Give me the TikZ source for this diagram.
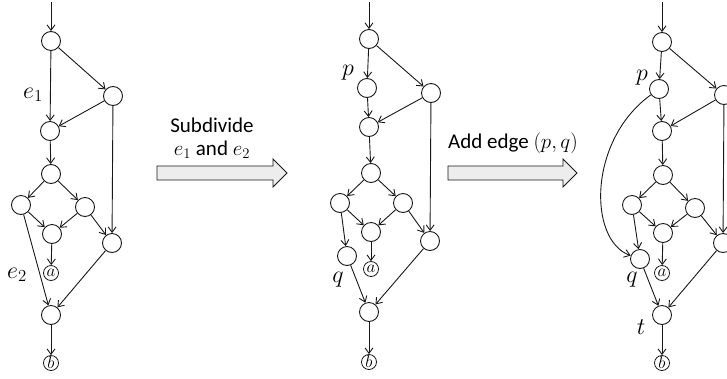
\documentclass[tikz,border=0pt]{standalone}
\usepackage{fix-cm}
\usepackage{fontspec}
\setmainfont{Carlito}
\usetikzlibrary{arrows.meta}
\begin{document}
\begin{tikzpicture}[x=1pt,y=-1pt,
  vtx/.style={circle,draw=black!90,line width=0.9pt,minimum size=19pt,inner sep=0pt},
  leaf/.style={circle,draw=black!90,line width=0.8pt,minimum size=15pt,inner sep=0pt,font=\fontsize{17}{17}\selectfont},
  edge/.style={draw=black!90,line width=0.9pt,-{Straight Barb[length=5.5pt,width=8pt]}},
  lbl/.style={font=\fontsize{21}{25}\selectfont,inner sep=0pt},
  mlbl/.style={font=\fontsize{24}{28}\selectfont,inner sep=0pt},
  blockarrow/.style={draw=black!90,line width=0.9pt,fill=black!7}]
\clip (0,0) rectangle (727,378);

% ---------- graph 1 ----------
\coordinate (S1) at (51,2);
\node[vtx] (A1) at (51,41) {};
\node[vtx] (B1) at (113,96) {};
\node[vtx] (C1) at (50,131) {};
\node[vtx] (D1) at (51,174) {};
\node[vtx] (E1) at (21,205) {};
\node[vtx] (F1) at (85,207) {};
\node[vtx] (G1) at (52,234) {};
\node[vtx] (H1) at (112,243) {};
\node[leaf] (a1) at (51,273) {$a$};
\node[vtx] (I1) at (51,315) {};
\node[leaf] (b1) at (51,363) {$b$};
\node[mlbl] (le1) at (33,95) {$e_1$};
\node[mlbl] (le2) at (17,275) {$e_2$};
\draw[edge] (S1) -- (A1);
\draw[edge] (A1) -- (C1);
\draw[edge] (A1) -- (B1);
\draw[edge] (B1) -- (C1);
\draw[edge] (B1) -- (H1);
\draw[edge] (C1) -- (D1);
\draw[edge] (D1) -- (E1);
\draw[edge] (D1) -- (F1);
\draw[edge] (E1) -- (G1);
\draw[edge] (F1) -- (G1);
\draw[edge] (F1) -- (H1);
\draw[edge] (G1) -- (a1);
\draw[edge] (E1) -- (I1);
\draw[edge] (H1) -- (I1);
\draw[edge] (I1) -- (b1);

% ---------- arrow 1 ----------
\draw[blockarrow] (157,166) -- (273,166) -- (273,159) -- (287,173) -- (273,187) -- (273,180) -- (157,180) -- cycle;
\node[lbl] (t1) at (212,125) {Subdivide};
\node[lbl] (t2) at (212,150) {$e_1$ and $e_2$};

% ---------- graph 2 ----------
\coordinate (S2) at (369,2);
\node[vtx] (A2) at (369,39) {};
\node[vtx] (P2) at (367,88) {};
\node[vtx] (B2) at (431,93) {};
\node[vtx] (C2) at (369,127) {};
\node[vtx] (D2) at (371,173) {};
\node[vtx] (E2) at (340,203) {};
\node[vtx] (F2) at (403,203) {};
\node[vtx] (G2) at (371,232) {};
\node[vtx] (H2) at (430,241) {};
\node[vtx] (Q2) at (347,256) {};
\node[leaf] (a2) at (371,269) {$a$};
\node[vtx] (I2) at (369,312) {};
\node[leaf] (b2) at (369,362) {$b$};
\node[mlbl] (lp2) at (348,73) {$p$};
\node[mlbl] (lq2) at (338,280) {$q$};
\draw[edge] (S2) -- (A2);
\draw[edge] (A2) -- (P2);
\draw[edge] (A2) -- (B2);
\draw[edge] (P2) -- (C2);
\draw[edge] (B2) -- (C2);
\draw[edge] (B2) -- (H2);
\draw[edge] (C2) -- (D2);
\draw[edge] (D2) -- (E2);
\draw[edge] (D2) -- (F2);
\draw[edge] (E2) -- (G2);
\draw[edge] (F2) -- (G2);
\draw[edge] (F2) -- (H2);
\draw[edge] (G2) -- (a2);
\draw[edge] (E2) -- (Q2);
\draw[edge] (Q2) -- (I2);
\draw[edge] (H2) -- (I2);
\draw[edge] (I2) -- (b2);

% ---------- arrow 2 ----------
\draw[blockarrow] (448,166) -- (563,166) -- (563,159) -- (577,173) -- (563,187) -- (563,180) -- (448,180) -- cycle;
\node[lbl] (t3) at (513,143) {Add edge $(p,q)$};

% ---------- graph 3 ----------
\coordinate (S3) at (662,2);
\node[vtx] (A3) at (662,42) {};
\node[vtx] (P3) at (659,89) {};
\node[vtx] (B3) at (724,95) {};
\node[vtx] (C3) at (662,131) {};
\node[vtx] (D3) at (663,175) {};
\node[vtx] (E3) at (632,205) {};
\node[vtx] (F3) at (695,208) {};
\node[vtx] (G3) at (663,233) {};
\node[vtx] (H3) at (723,243) {};
\node[vtx] (Q3) at (640,259) {};
\node[leaf] (a3) at (662,273) {$a$};
\node[vtx] (I3) at (662,315) {};
\node[leaf] (b3) at (662,363) {$b$};
\node[mlbl] (lp3) at (642,78) {$p$};
\node[mlbl] (lq3) at (632,280) {$q$};
\node[mlbl] (lt3) at (641,327) {$t$};
\draw[edge] (S3) -- (A3);
\draw[edge] (A3) -- (P3);
\draw[edge] (A3) -- (B3);
\draw[edge] (P3) -- (C3);
\draw[edge] (B3) -- (C3);
\draw[edge] (B3) -- (H3);
\draw[edge] (C3) -- (D3);
\draw[edge] (D3) -- (E3);
\draw[edge] (D3) -- (F3);
\draw[edge] (E3) -- (G3);
\draw[edge] (F3) -- (G3);
\draw[edge] (F3) -- (H3);
\draw[edge] (G3) -- (a3);
\draw[edge] (E3) -- (Q3);
\draw[edge] (Q3) -- (I3);
\draw[edge] (H3) -- (I3);
\draw[edge] (I3) -- (b3);
\draw[edge] (P3) .. controls (588,140) and (588,240) .. (Q3);
\end{tikzpicture}
\end{document}
